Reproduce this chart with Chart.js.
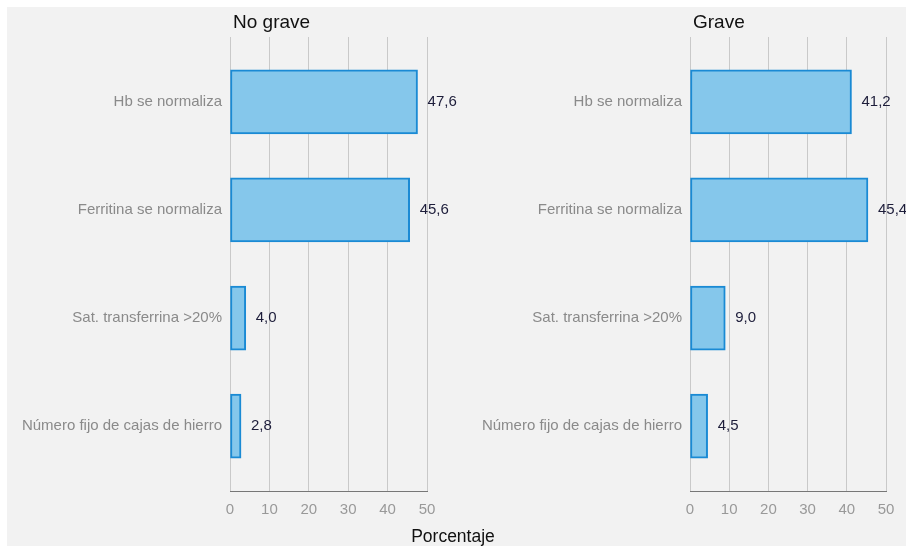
<!DOCTYPE html>
<html><head><meta charset="utf-8">
<script src="https://cdn.jsdelivr.net/npm/chart.js@4"></script>
<style>
html,body{margin:0;padding:0;background:#fff;}
#wrap{position:relative;width:906px;height:546px;overflow:hidden;background:#fff}
#bg{position:absolute;left:7px;top:7px;right:0;bottom:0;background:#f2f2f2}
canvas{position:absolute;left:0;top:0}
#xt{position:absolute;left:0;width:906px;top:526px;text-align:center;font:17.5px "Liberation Sans",Arial,sans-serif;color:#111}
</style></head>
<body>
<div id="wrap">
<div id="bg"></div>
<canvas id="c1" width="906" height="546"></canvas>
<canvas id="c2" width="906" height="546"></canvas>
<div id="xt">Porcentaje</div>
</div>
<script>
const categories = ["Hb se normaliza","Ferritina se normaliza","Sat. transferrina >20%","Número fijo de cajas de hierro"];
const noGrave = [47.6,45.6,4.0,2.8];
const grave = [41.2,45.4,9.0,4.5];
const xTicks = [0,10,20,30,40,50];
const panelTitles = ["No grave","Grave"];

Chart.defaults.font.family = '"Liberation Sans", Arial, sans-serif';

const panelPlugin = {
  id:'panel',
  afterDatasetsDraw(chart, args, opts){
    const ctx = chart.ctx;
    const ca = chart.chartArea;
    ctx.save();
    ctx.fillStyle = '#111';
    ctx.font = '19px "Liberation Sans", Arial, sans-serif';
    ctx.textAlign = 'left';
    ctx.textBaseline = 'middle';
    ctx.fillText(opts.title, ca.left + 3, 23);
    ctx.fillStyle = '#1d1d3a';
    ctx.font = '15px "Liberation Sans", Arial, sans-serif';
    const meta = chart.getDatasetMeta(0);
    meta.data.forEach((bar,i)=>{
      const v = opts.values[i];
      ctx.fillText(v.toFixed(1).replace('.',','), bar.x + 10, bar.y);
    });
    ctx.restore();
  }
};

function makeChart(id, values, title, padLeft, padRight){
  return new Chart(document.getElementById(id), {
    type:'bar',
    data:{datasets:[{
      data: values.map((v,i)=>({x:v,y:i})),
      backgroundColor:'#85c7eb',
      borderColor:'#1a8ad4',
      borderWidth:2,
      borderSkipped:false,
      barThickness:64
    }]},
    options:{
      indexAxis:'y',
      responsive:false,
      animation:false,
      layout:{padding:{left:padLeft,right:padRight,top:37,bottom:25}},
      plugins:{legend:{display:false},tooltip:{enabled:false},title:{display:false},
        panel:{title:title, values:values}},
      scales:{
        x:{type:'linear',min:0,max:50,
          afterBuildTicks:a=>{a.ticks = xTicks.map(v=>({value:v}));},
          grid:{color:'#c9c9c9',drawTicks:false},
          border:{color:'#777',width:1},
          ticks:{color:'#999',font:{size:15},padding:10},
          afterFit:a=>{a.height=30;}
        },
        y:{type:'linear',min:-0.6,max:3.6,reverse:true,offset:false,
          afterBuildTicks:a=>{a.ticks = categories.map((c,i)=>({value:i}));},
          ticks:{callback:v=>categories[v],color:'#8a8a8a',font:{size:15},padding:8},
          grid:{display:false,drawTicks:false},
          border:{display:false},
          afterFit:a=>{a.width=230;}
        }
      }
    },
    plugins:[panelPlugin]
  });
}
makeChart('c1', noGrave, panelTitles[0], 0, 479);
makeChart('c2', grave, panelTitles[1], 460, 20);
</script>
</body></html>
